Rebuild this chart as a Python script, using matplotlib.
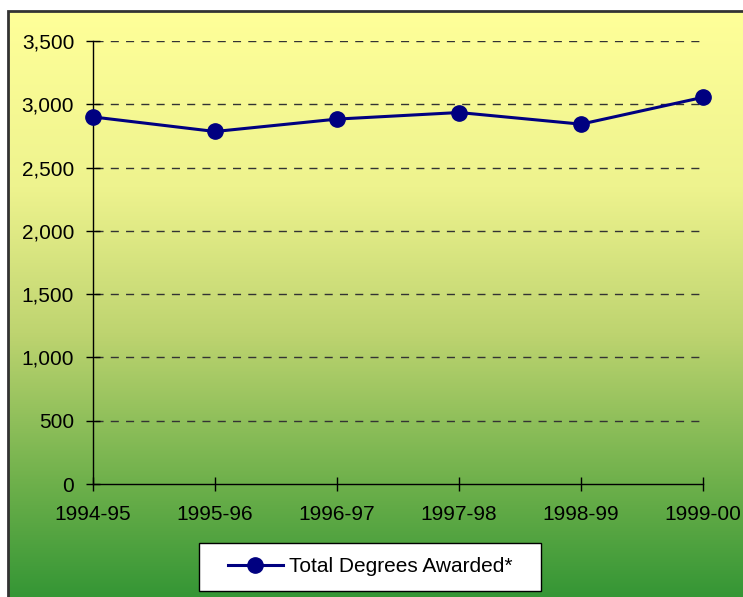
import numpy as np
import matplotlib
matplotlib.use("Agg")
import matplotlib.pyplot as plt
from matplotlib.patches import Rectangle
from matplotlib.ticker import FuncFormatter

years = ["1994-95", "1995-96", "1996-97", "1997-98", "1998-99", "1999-00"]
degrees = [2900, 2785, 2883, 2935, 2843, 3055]
series_label = "Total Degrees Awarded*"

plt.rcParams['font.family'] = ['Liberation Sans', 'DejaVu Sans']
FS = 15

W, H = 743, 597
fig = plt.figure(figsize=(W / 100, H / 100), dpi=100)
fig.patch.set_facecolor('white')

# gradient background
bx0 = 8 / W
by1 = (H - 11) / H
bg = fig.add_axes([bx0, 0, 1 - bx0, by1], zorder=0)
stops = np.array([0.0, 0.3, 0.55, 0.8, 1.0])
cols = np.array([[255, 255, 153], [238, 243, 142], [190, 212, 112],
                 [112, 177, 76], [53, 150, 53]]) / 255.0
t = np.linspace(0, 1, 300)
grad = np.stack([np.interp(t, stops, cols[:, k]) for k in range(3)], axis=1)
bg.imshow(grad[:, None, :], aspect='auto', extent=[0, 1, 0, 1], origin='upper')
bg.set_xlim(0, 1)
bg.set_ylim(0, 1)
bg.axis('off')
fig.add_artist(Rectangle((bx0, -0.01), 1.0, by1 + 0.01, transform=fig.transFigure,
                         fill=False, edgecolor='#333333', linewidth=2, zorder=1))

ax = fig.add_axes([93 / W, (H - 484) / H, (703 - 93) / W, (484 - 41) / H], zorder=2)
ax.patch.set_alpha(0)
x = np.arange(len(years))
ax.plot(x, degrees, color='#000080', linewidth=2.2, marker='o', markersize=11,
        label=series_label, clip_on=False, zorder=5)
ax.set_xlim(0, len(years) - 1)
ax.set_ylim(0, 3500)
ax.set_yticks(np.arange(0, 3501, 500))
ax.yaxis.set_major_formatter(FuncFormatter(lambda v, p: f"{int(v):,}"))
ax.set_xticks(x)
ax.set_xticklabels(years)
for v in np.arange(500, 3501, 500):
    ax.plot([0.003, 0.995], [v, v], transform=ax.get_yaxis_transform(),
            color='#333333', linestyle=(0, (5.8, 5.2)), linewidth=1, zorder=1)
for s in ['top', 'right']:
    ax.spines[s].set_visible(False)
for s in ['left', 'bottom']:
    ax.spines[s].set_color('black')
    ax.spines[s].set_linewidth(1)
ax.tick_params(axis='both', direction='inout', length=10, width=1, labelsize=FS,
               colors='black')
ax.tick_params(axis='x', pad=10)
ax.tick_params(axis='y', pad=8.5)

box = Rectangle((199 / W, (H - 591) / H), (541 - 199) / W, 48 / H,
                transform=fig.transFigure, facecolor='white',
                edgecolor='black', linewidth=1, zorder=6, clip_on=False)
ax.add_artist(box)
leg = ax.legend(loc='center', bbox_to_anchor=(370 / W, (H - 567) / H),
                bbox_transform=fig.transFigure, frameon=False,
                fontsize=FS, handlelength=2.64, handletextpad=0.3,
                borderpad=0, borderaxespad=0)
leg.set_zorder(7)

fig.savefig("out.png", dpi=100)
